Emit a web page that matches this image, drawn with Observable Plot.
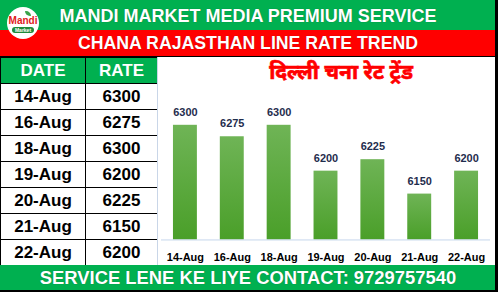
<!DOCTYPE html>
<html>
<head>
<meta charset="utf-8">
<script src="https://cdn.jsdelivr.net/npm/d3@7"></script>
<script src="https://cdn.jsdelivr.net/npm/@observablehq/plot@0.6"></script>
<style>
  html, body { margin: 0; padding: 0; background: #fff; }
  #root { position: relative; width: 498px; height: 292px; overflow: hidden; font-family: Arial, "Liberation Sans", sans-serif; background: #fff; }
  .band { position: absolute; left: 0; width: 496px; color: #fff; font-weight: bold; text-align: center; white-space: nowrap; text-shadow: 0 0 1px rgba(0,0,0,0.35); }
  #top { top: 0; height: 30px; line-height: 32px; background: #00B050; font-size: 18px; }
  #sub { top: 30px; height: 26px; line-height: 27px; background: #FF0000; font-size: 17.7px; border-bottom: 1px solid #000; }
  #foot { top: 265px; height: 25px; line-height: 25px; background: #00B050; font-size: 18.4px; border-bottom: 2px solid #000; }
  #rborder { position: absolute; left: 495px; top: 0; width: 3px; height: 292px; background: #000; }
  #tbl { position: absolute; left: 0; top: 57px; border-collapse: collapse; }
  #tbl td, #tbl th { border: 1px solid #000; padding: 0; height: 25px; font-size: 17px; font-weight: bold; text-align: center; }
  #tbl th { background: #00B050; color: #fff; }
  #tbl td { color: #000; background: #fff; }
  #tbl .c1 { width: 84px; }
  #tbl .c2 { width: 71px; }
  #chartbox { position: absolute; left: 157px; top: 57px; width: 338px; height: 209px; border-left: 1px solid #c9d6e8; box-sizing: border-box; }
  #chartbox svg { position: absolute; left: -1px; top: 0; }
  #htitle { position: absolute; left: 14px; top: 3px; width: 338px; text-align: center; color: #FF0000; font-weight: bold; font-size: 21px; -webkit-text-stroke: 0.6px #FF0000; font-family: "Noto Sans Devanagari", "Lohit Devanagari", "Noto Sans", sans-serif; z-index: 2; }
  #logo { position: absolute; left: 7px; top: 7px; width: 32px; height: 32px; border-radius: 50%; background: #fff; z-index: 3; text-align: center; }
  #logo .m1 { position: absolute; left: 0; width: 32px; top: 9px; color: #e0201b; font-weight: bold; font-size: 10px; line-height: 10px; }
  #logo .m2 { position: absolute; left: 5px; width: 22px; top: 20px; height: 6px; border-radius: 3px; background: #1f8a3a; color: #fff; font-size: 5px; line-height: 6px; font-weight: bold; }
  #logo .leaf { position: absolute; left: 18px; top: 4px; width: 6px; height: 5px; background: #3aa34a; border-radius: 0 5px 0 5px; }
</style>
</head>
<body>
<div id="root">
  <div id="top" class="band">MANDI MARKET MEDIA PREMIUM SERVICE</div>
  <div id="sub" class="band">CHANA RAJASTHAN LINE RATE TREND</div>
  <div id="logo"><div class="leaf"></div><div class="m1">Mandi</div><div class="m2">Market</div></div>
  <table id="tbl"></table>
  <div id="chartbox"><div id="htitle">दिल्ली चना रेट ट्रेंड</div></div>
  <div id="foot" class="band">SERVICE LENE KE LIYE CONTACT: 9729757540</div>
  <div id="rborder"></div>
</div>
<script>
// ---- data ----
const headers = ["DATE", "RATE"];
const dates = ["14-Aug", "16-Aug", "18-Aug", "19-Aug", "20-Aug", "21-Aug", "22-Aug"];
const rates = [6300, 6275, 6300, 6200, 6225, 6150, 6200];
const yMin = 6050;
const yMax = 6350;

// ---- table ----
const tbl = d3.select("#tbl");
const hr = tbl.append("tr");
hr.append("th").attr("class", "c1").text(headers[0]);
hr.append("th").attr("class", "c2").text(headers[1]);
dates.forEach((d, i) => {
  const tr = tbl.append("tr");
  tr.append("td").attr("class", "c1").text(d);
  tr.append("td").attr("class", "c2").text(rates[i]);
});

// ---- chart ----
const data = dates.map((d, i) => ({date: d, rate: rates[i]}));
const chart = Plot.plot({
  width: 338,
  height: 209,
  marginLeft: 4,
  marginRight: 4,
  marginTop: 45,
  marginBottom: 26,
  style: {fontFamily: "Arial, 'Liberation Sans', sans-serif", background: "transparent"},
  x: {domain: dates, paddingInner: 0.49, paddingOuter: 0.255},
  y: {domain: [yMin, yMax], axis: null},
  marks: [
    Plot.barY(data, {x: "date", y1: () => yMin, y2: "rate", fill: "url(#barGrad)"}),
    Plot.ruleY([yMin], {stroke: "#c6d6ec", strokeWidth: 1}),
    Plot.text(data, {x: "date", y: "rate", text: d => String(d.rate), dy: -13, fontSize: 11, fontWeight: "bold", fill: "#1f2d4d"}),
    Plot.axisX({tickSize: 0, tickPadding: 13, fontSize: 11, fontWeight: "bold", color: "#000", label: null})
  ]
});
const svg = d3.select(chart);
const grad = svg.insert("defs", ":first-child").append("linearGradient")
  .attr("id", "barGrad").attr("x1", 0).attr("y1", 0).attr("x2", 0).attr("y2", 1);
grad.append("stop").attr("offset", "0%").attr("stop-color", "#6fb456");
grad.append("stop").attr("offset", "100%").attr("stop-color", "#4a9f29");
document.getElementById("chartbox").appendChild(chart);
</script>
</body>
</html>
